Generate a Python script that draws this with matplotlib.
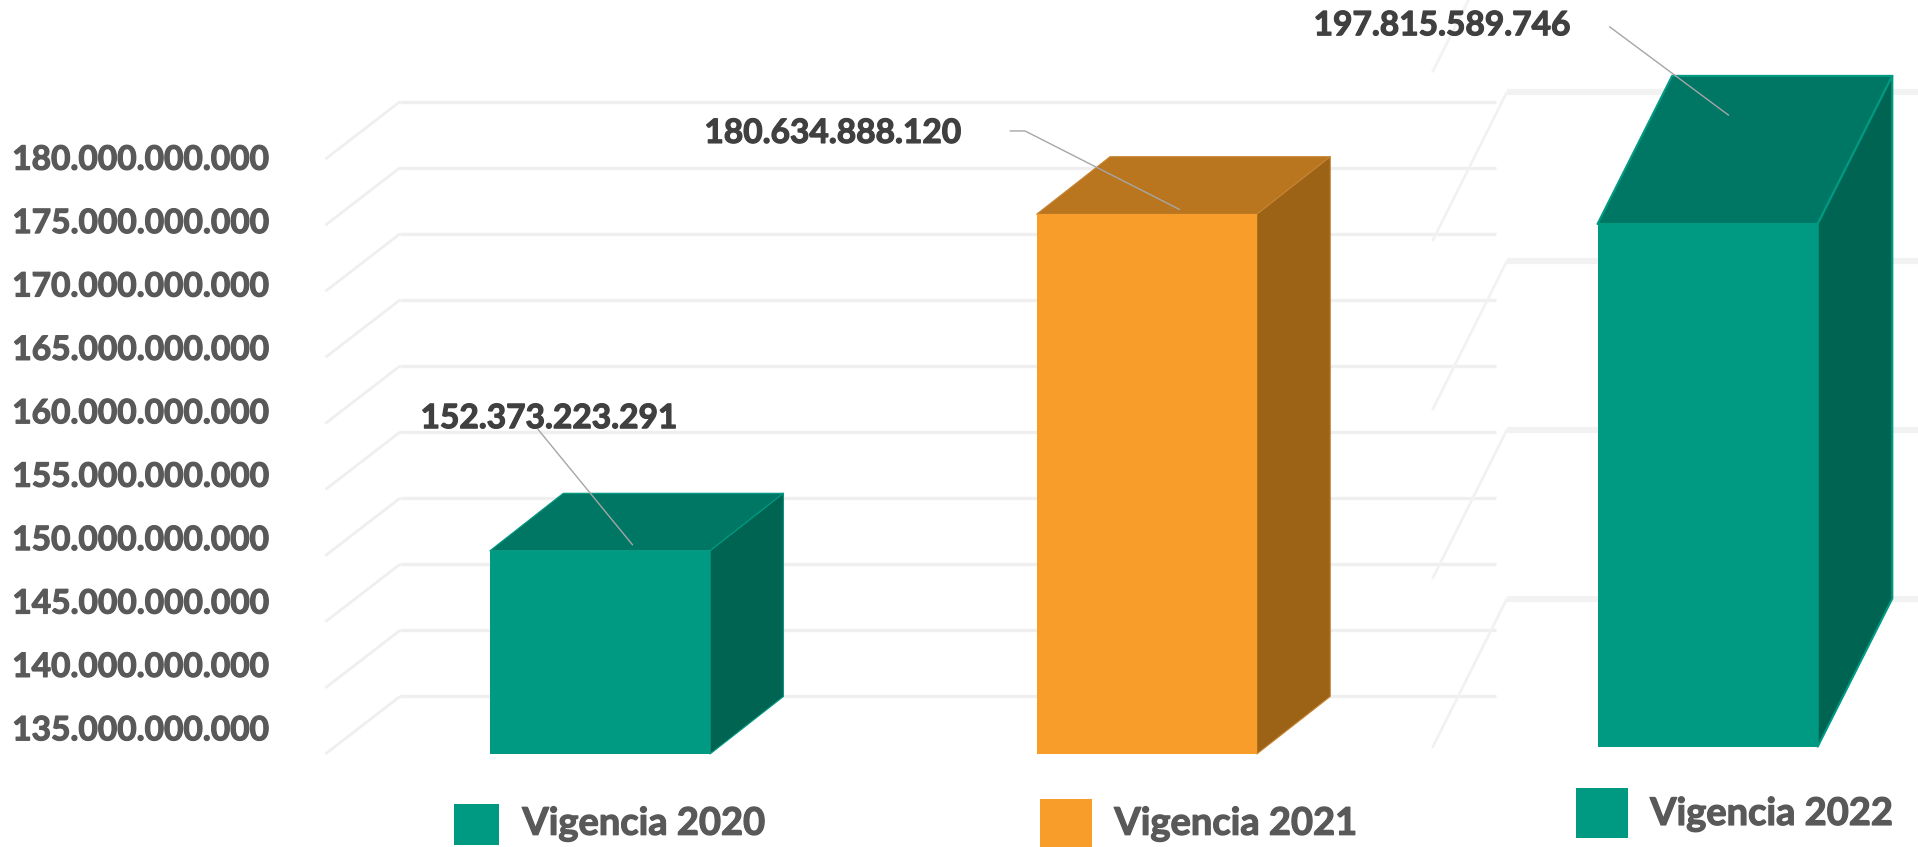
import matplotlib
matplotlib.use("Agg")
import matplotlib.pyplot as plt
import matplotlib.patheffects as pe
from matplotlib.patches import Polygon, Rectangle

# ---- data ----
categories = ["Vigencia 2020", "Vigencia 2021", "Vigencia 2022"]
data_labels = ["152.373.223.291", "180.634.888.120", "197.815.589.746"]
# drawn bar heights as they sit on each panel's own value scale
bar_tops_left = [150.37e9, 175.83e9]
bar_top_right = [197.03e9]
tick_values = [135, 140, 145, 150, 155, 160, 165, 170, 175, 180]
tick_labels = ["135.000.000.000", "140.000.000.000", "145.000.000.000",
               "150.000.000.000", "155.000.000.000", "160.000.000.000",
               "165.000.000.000", "170.000.000.000", "175.000.000.000",
               "180.000.000.000"]
grid_left = [135e9, 140e9, 145e9, 150e9, 155e9, 160e9, 165e9, 170e9, 175e9, 180e9]
grid_right = [135e9, 155e9, 175e9, 195e9, 215e9]

plt.rcParams["font.family"] = ["Lato", "DejaVu Sans"]
plt.rcParams["font.weight"] = "bold"

W, H = 1568.0, 692.0            # layout units: the shrunk reference
fig = plt.figure(figsize=(19.18, 8.47), dpi=100, facecolor="white")

GRID = "#efefef"
TEAL, TEAL_TOP, TEAL_SIDE = "#009a82", "#007664", "#006453"
ORANGE, ORANGE_TOP, ORANGE_SIDE = "#f89c2a", "#ba751f", "#9c6317"
TXT_AXIS, TXT_DATA = "#595959", "#404040"
LEADER = "#a6a6a6"


def heavy(color):
    return [pe.withStroke(linewidth=0.9, foreground=color)]


def overlay(x0px, xscale, y0px, y0val, yscale):
    """Full-figure transparent axes: data x=0 at x0px, y0val at y0px."""
    ax = fig.add_axes([0, 0, 1, 1], facecolor="none")
    ax.set_xlim(-x0px / xscale, (W - x0px) / xscale)
    ax.set_ylim(y0val - (H - y0px) / yscale, y0val + y0px / yscale)
    ax.axis("off")
    ax.px = lambda x, y: ((x - x0px) / xscale, y0val + (y0px - y) / yscale)
    ax.sx, ax.sy = xscale, yscale
    return ax


def box(ax, x, top, base, width, dxpx, dypx, front, topc, side, edge, lw):
    w = width / ax.sx / 2
    dx, dy = dxpx / ax.sx, dypx / ax.sy
    l, r = x - w, x + w
    ax.add_patch(Polygon([(l, top), (r, top), (r + dx, top + dy), (l + dx, top + dy)],
                         fc=topc, ec=edge, lw=lw, zorder=3, joinstyle="round"))
    ax.add_patch(Polygon([(r, base), (r + dx, base + dy), (r + dx, top + dy), (r, top)],
                         fc=side, ec=edge, lw=lw, zorder=3, joinstyle="round"))
    ax.add_patch(Polygon([(l, base), (r, base), (r, top), (l, top)],
                         fc=front, ec="none", zorder=4))


def grid(ax, values, x_front, dxpx, dypx, x_end, lw_back, lw_diag, color):
    fx = ax.px(x_front, 0)[0]
    bx = ax.px(x_front + dxpx, 0)[0]
    ex = ax.px(x_end, 0)[0]
    dy = dypx / ax.sy
    for v in values:
        ax.plot([fx, bx], [v, v + dy], color=color, lw=lw_diag, zorder=1,
                solid_capstyle="butt")
        ax.plot([bx, ex], [v + dy, v + dy], color=color, lw=lw_back, zorder=1,
                solid_capstyle="butt")


def leader(ax, pts):
    xy = [ax.px(*p) for p in pts]
    ax.plot([p[0] for p in xy], [p[1] for p in xy], color=LEADER, lw=1.0, zorder=6)


# ---- value axis labels (their own scale, as in the reference) ----
ax_t = fig.add_axes([221 / W, 0, 1 - 221 / W, 1], facecolor="none")
ax_t.set_ylim(135 - (H - 595) / 10.36, 135 + 595 / 10.36)
ax_t.set_yticks(tick_values)
ax_t.set_yticklabels(tick_labels, fontsize=24.1, fontweight="bold", color=TXT_AXIS,
                     path_effects=heavy(TXT_AXIS))
ax_t.tick_params(axis="y", length=0, pad=0)
ax_t.set_xticks([])
for s in ax_t.spines.values():
    s.set_visible(False)

# ---- left panel: 2020 and 2021 ----
ax1 = overlay(490.5, 447.0, 616.0, 135e9, 54.0 / 5e9)
grid(ax1, grid_left, 266, 61, 47, 1223, 2.4, 2.0, GRID)
xs = [0, 1]
styles = [(TEAL, TEAL_TOP, TEAL_SIDE, TEAL), (ORANGE, ORANGE_TOP, ORANGE_SIDE, "#c68431")]
for x, top, st in zip(xs, bar_tops_left, styles):
    box(ax1, x, top, 135e9, 180, 60, 47, st[0], st[1], st[2], st[3], 0.8)

# ---- right panel: 2022, steeper perspective ----
ax2 = overlay(1396 - 2 * 447.0, 447.0, 611.0, 135e9, 138.0 / 20e9)
grid(ax2, grid_right, 1171, 61, 122, 1568, 4.5, 2.0, "#f2f2f2")
box(ax2, 2, bar_top_right[0], 135.145e9, 180, 61, 121, TEAL, TEAL_TOP, TEAL_SIDE, TEAL, 1.5)

# ---- data labels and leaders ----
for ax, (tx, ty), s in zip([ax1, ax1, ax2], [(449, 342), (681, 109), (1179, 21)], data_labels):
    ax.text(*ax.px(tx, ty), s, ha="center", va="center", fontsize=24.1,
            fontweight="bold", color=TXT_DATA, zorder=7, path_effects=heavy(TXT_DATA))
leader(ax1, [(440, 351), (517, 445)])
leader(ax1, [(826, 107), (838, 107), (964, 171)])
leader(ax2, [(1316, 22), (1413, 94)])

# ---- legend, placed by hand as in the reference ----
legend_boxes = [(371, 657, 37, 33), (850, 653, 43, 39), (1288, 644, 43, 41)]
legend_text = [(427, 673), (911, 673), (1349, 665)]
legend_cols = [TEAL, ORANGE, TEAL]
for (x, y, w, h), (tx, ty), c, name in zip(legend_boxes, legend_text, legend_cols, categories):
    fig.add_artist(Rectangle((x / W, 1 - (y + h) / H), w / W, h / H, fc=c, ec="none",
                             transform=fig.transFigure))
    fig.text(tx / W, 1 - ty / H, name, ha="left", va="center", fontsize=27.4,
             fontweight="bold", color=TXT_AXIS, path_effects=heavy(TXT_AXIS))

fig.savefig("out.png", dpi=100, facecolor="white")
